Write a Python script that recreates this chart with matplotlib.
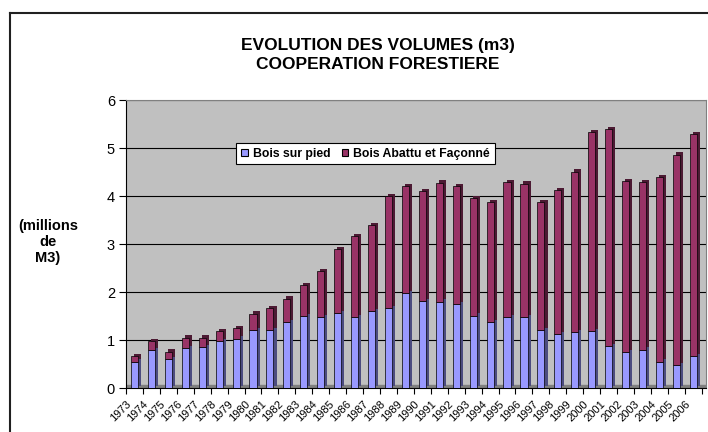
import numpy as np
import matplotlib
matplotlib.use("Agg")
from matplotlib import pyplot as plt
from matplotlib import patheffects as pe
from matplotlib.lines import Line2D

plt.rcParams['font.family'] = ['Liberation Sans', 'DejaVu Sans']

#data (millions de m3)
years = [str(y) for y in range(1973, 2007)]
bois_sur_pied = [0.55, 0.79, 0.60, 0.83, 0.85, 0.98, 1.03, 1.21, 1.21, 1.37,
                 1.50, 1.48, 1.56, 1.47, 1.60, 1.66, 1.97, 1.81, 1.80, 1.74,
                 1.51, 1.37, 1.48, 1.48, 1.20, 1.12, 1.17, 1.19, 0.87, 0.74,
                 0.80, 0.55, 0.47, 0.66]
bois_abattu = [0.12, 0.18, 0.16, 0.22, 0.20, 0.20, 0.21, 0.34, 0.46, 0.49,
               0.64, 0.95, 1.33, 1.69, 1.80, 2.33, 2.24, 2.29, 2.48, 2.46,
               2.45, 2.51, 2.81, 2.78, 2.67, 3.00, 3.34, 4.14, 4.53, 3.57,
               3.49, 3.85, 4.39, 4.63]
series_names = ['Bois sur pied', 'Bois Abattu et Façonné']
y_ticks = [0, 1, 2, 3, 4, 5, 6]

W, H = 708, 432
fig = plt.figure(figsize=(W / 100, H / 100), dpi=100)
ax = fig.add_axes([126 / W, 1 - 388 / H, (706 - 126) / W, 288 / H])

x = np.arange(len(years))
w = 0.42

#fake 3d look with an offset shadow (side + top face)
shadow_blue = [pe.SimplePatchShadow(offset=(2.2, 1.6), shadow_rgbFace='#4c4c80', alpha=1), pe.Normal()]
shadow_red = [pe.SimplePatchShadow(offset=(2.2, 1.6), shadow_rgbFace='#4c1a33', alpha=1), pe.Normal()]

b1 = ax.bar(x, bois_sur_pied, width=w, color='#9999ff', edgecolor='black',
            linewidth=0.5, zorder=3, label=series_names[0])
for p in b1:
    p.set_path_effects(shadow_blue)
b2 = ax.bar(x, bois_abattu, bottom=bois_sur_pied, width=w, color='#993366',
            edgecolor='black', linewidth=0.5, zorder=4, label=series_names[1])
for p in b2:
    p.set_path_effects(shadow_red)

ax.set_facecolor('#c0c0c0')
ax.axhspan(0, 0.06, color='#808080', zorder=1)
ax.set_xlim(-0.5, 33.75)
ax.set_ylim(0, 6)
ax.set_yticks(y_ticks)
ax.set_yticklabels([str(t) for t in y_ticks], fontsize=10.5)
ax.yaxis.grid(True, color='black', linewidth=0.8, zorder=0)
ax.set_axisbelow(True)
ax.tick_params(axis='y', length=5, width=0.8, pad=3)

ax.set_xticks(np.arange(len(years) + 1) - 0.5)
ax.set_xticklabels(years + [''], fontsize=8, rotation=45, ha='right',
                   va='top', rotation_mode='anchor')
ax.tick_params(axis='x', length=4, width=0.8, pad=4)

for s in ['top', 'right']:
    ax.spines[s].set_color('#808080')
ax.spines['left'].set_color('black')
ax.spines['bottom'].set_color('black')

leg = ax.legend(loc='center', bbox_to_anchor=(0.413, 0.814), ncol=2,
                fancybox=False, framealpha=1, edgecolor='black',
                prop={'weight': 'bold', 'size': 8.8}, handlelength=0.55,
                handleheight=0.55, handletextpad=0.4, columnspacing=0.9,
                borderpad=0.4)
leg.get_frame().set_linewidth(0.8)
for h in leg.legend_handles:
    h.set_path_effects([])
    h.set_linewidth(0.8)

fig.text(378 / W, 1 - 55 / H, 'EVOLUTION DES VOLUMES (m3)\nCOOPERATION FORESTIERE',
         ha='center', va='center', fontsize=12.5, fontweight='bold', linespacing=1.3)
fig.text(48 / W, 1 - 242 / H, '(millions\nde\nM3)', ha='center', va='center',
         fontsize=10.5, fontweight='bold', linespacing=1.2)

#outer chart border (the picture is a crop of a bigger chart)
fig.add_artist(Line2D([10 / W, 10 / W], [0, 1 - 13 / H], color='#202020', lw=1.5))
fig.add_artist(Line2D([10 / W, 1], [1 - 13 / H, 1 - 13 / H], color='#202020', lw=1.5))

fig.savefig('out.png', dpi=100)
